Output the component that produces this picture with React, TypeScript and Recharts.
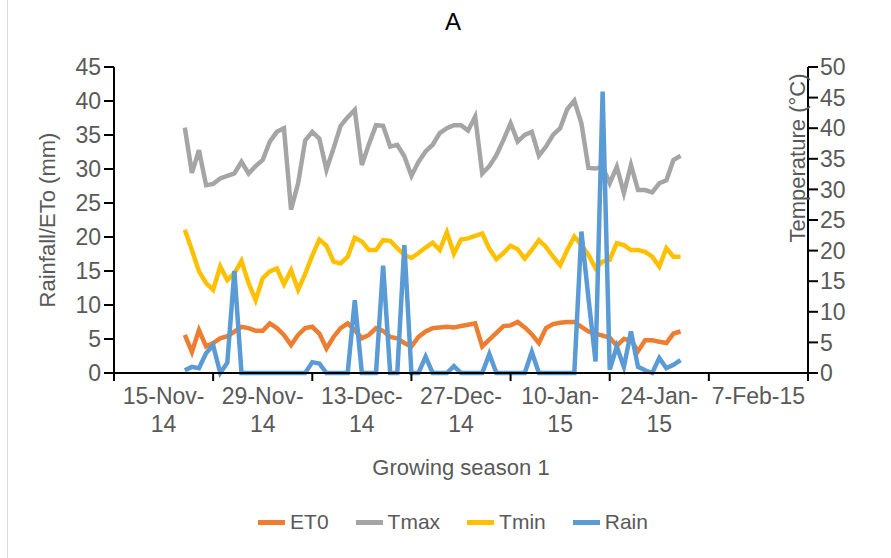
import React from 'react';
import { ComposedChart, Line, XAxis, YAxis, Legend } from 'recharts';

// Day offsets from 15-Nov-14
const dayOffsets = [
  10, 11, 12, 13, 14, 15, 16, 17, 18, 19,
  20, 21, 22, 23, 24, 25, 26, 27, 28, 29,
  30, 31, 32, 33, 34, 35, 36, 37, 38, 39,
  40, 41, 42, 43, 44, 45, 46, 47, 48, 49,
  50, 51, 52, 53, 54, 55, 56, 57, 58, 59,
  60, 61, 62, 63, 64, 65, 66, 67, 68, 69,
  70, 71, 72, 73, 74, 75, 76, 77, 78, 79, 80,
];

const et0 = [
  5.6, 3.1, 6.3, 3.9, 4.4, 5.1, 5.4, 6.1, 6.8, 6.6,
  6.2, 6.2, 7.3, 6.6, 5.6, 4.1, 5.6, 6.6, 6.8, 5.8,
  3.6, 5.3, 6.6, 7.3, 6.3, 5.1, 5.6, 6.6, 6.2, 5.3,
  5.1, 4.4, 3.9, 5.3, 6.1, 6.6, 6.7, 6.8, 6.7, 6.9,
  7.1, 7.3, 3.9, 4.9, 5.9, 6.9, 7.0, 7.5, 6.7, 5.7,
  4.4, 6.6, 7.2, 7.4, 7.5, 7.5, 6.8, 6.1, 5.8, 5.5,
  5.2, 4.0, 5.0, 4.8, 3.2, 4.8, 4.8, 4.6, 4.4, 5.8, 6.1,
];

const tmax = [
  40.1, 32.7, 36.4, 30.7, 30.9, 31.8, 32.2, 32.6, 34.5, 32.6,
  33.8, 34.8, 37.8, 39.4, 40.0, 26.7, 31.0, 38.0, 39.4, 38.3,
  33.2, 36.7, 40.4, 41.8, 43.0, 34.0, 37.4, 40.5, 40.4, 37.0,
  37.3, 35.4, 32.2, 34.5, 36.2, 37.3, 39.2, 40.0, 40.5, 40.5,
  39.6, 41.9, 32.6, 33.8, 35.6, 38.1, 40.8, 37.8, 38.9, 39.4,
  35.5, 37.0, 38.9, 40.0, 43.1, 44.5, 40.8, 33.5, 33.4, 33.7,
  31.0, 33.7, 29.4, 34.0, 29.9, 29.9, 29.5, 31.0, 31.5, 34.8, 35.5,
];

const tmin = [
  23.4, 20.1, 16.6, 14.7, 13.6, 17.4, 15.2, 16.3, 18.3, 14.7,
  11.9, 15.5, 16.6, 17.1, 14.5, 16.8, 13.6, 16.2, 19.2, 21.8,
  20.8, 18.2, 17.9, 19.0, 22.1, 21.5, 20.1, 20.1, 21.7, 21.6,
  20.4, 19.3, 18.8, 19.6, 20.5, 21.3, 20.1, 23.0, 19.5, 21.8,
  22.0, 22.4, 22.8, 20.3, 18.6, 19.6, 20.8, 20.2, 18.7, 20.1,
  21.7, 20.6, 19.0, 17.6, 20.1, 22.3, 20.9, 19.3, 17.1, 18.2,
  18.5, 21.2, 20.9, 20.1, 20.1, 19.8, 19.0, 17.4, 20.4, 19.0, 19.0,
];

const rain = [
  0.4, 0.9, 0.7, 2.9, 4.1, 0, 1.5, 15.0, 0, 0,
  0, 0, 0, 0, 0, 0, 0, 0, 1.6, 1.4,
  0, 0, 0, 0, 10.7, 0, 0, 0, 15.8, 0,
  0, 18.8, 0, 0, 2.4, 0, 0, 0, 1.0, 0,
  0, 0, 0, 2.8, 0, 0, 0, 0, 0, 3.1,
  0, 0, 0, 0, 0, 0, 20.8, 11.0, 1.7, 41.4,
  0.5, 3.9, 0.9, 6.1, 0.9, 0.4, 0, 2.2, 0.7, 1.2, 1.9,
];

const xTicks = [0, 14, 28, 42, 56, 70, 84, 98];
const xTickLines = [
  ['15-Nov-', '14'],
  ['29-Nov-', '14'],
  ['13-Dec-', '14'],
  ['27-Dec-', '14'],
  ['10-Jan-', '15'],
  ['24-Jan-', '15'],
  ['7-Feb-15'],
];
const leftTicks = [0, 5, 10, 15, 20, 25, 30, 35, 40, 45];
const rightTicks = [0, 5, 10, 15, 20, 25, 30, 35, 40, 45, 50];

const seriesNames = ['ET0', 'Tmax', 'Tmin', 'Rain'];
const seriesColors = ['#ED7D31', '#A5A5A5', '#FFC000', '#5B9BD5'];

const data = dayOffsets.map((d, i) => ({
  day: d,
  ET0: et0[i],
  Tmax: tmax[i],
  Tmin: tmin[i],
  Rain: rain[i],
}));

const FONT = '"Liberation Sans", Arial, sans-serif';
const TXT = '#595959';
const W = 891;
const H = 558;
const PLOT_LEFT = 114;
const PLOT_RIGHT = 808;
const PLOT_TOP = 67;
const PLOT_BOTTOM = 373;
const HALF = ((PLOT_RIGHT - PLOT_LEFT) / 98) * 7;
const TICK_FS = 23;
const TITLE_FS = 22;

const XTick = (props: any) => {
  const { x, y, payload } = props;
  const idx = xTicks.indexOf(payload.value);
  if (idx < 0 || idx >= xTickLines.length) return null;
  const lines = xTickLines[idx];
  const cx = x + HALF;
  return (
    <text x={cx} y={y} textAnchor="middle" fill={TXT} fontSize={TICK_FS} fontFamily={FONT}>
      {lines.map((l, i) => (
        <tspan key={i} x={cx} dy={i === 0 ? 21 : 28}>
          {l}
        </tspan>
      ))}
    </text>
  );
};

const LeftTitle = () => (
  <text
    x={47}
    y={220}
    transform="rotate(-90 47 220)"
    textAnchor="middle"
    dominantBaseline="central"
    fill={TXT}
    fontSize={TITLE_FS}
    fontFamily={FONT}
  >
    Rainfall/ETo (mm)
  </text>
);

const RightTitle = () => (
  <text
    x={797}
    y={158}
    transform="rotate(-90 797 158)"
    textAnchor="middle"
    dominantBaseline="central"
    fill={TXT}
    fontSize={TITLE_FS}
    fontFamily={FONT}
  >
    Temperature (°C)
  </text>
);

const XTitle = () => (
  <text x={461} y={467} textAnchor="middle" dominantBaseline="central" fill={TXT} fontSize={TITLE_FS} fontFamily={FONT}>
    Growing season 1
  </text>
);

const LegendContent = () => (
  <div style={{ display: 'flex', justifyContent: 'center', alignItems: 'center', fontFamily: FONT, fontSize: 21, color: TXT }}>
    {seriesNames.map((n, i) => (
      <div key={n} style={{ display: 'flex', alignItems: 'center', marginRight: i < seriesNames.length - 1 ? 27 : 0 }}>
        <div style={{ width: 27, height: 5, background: seriesColors[i], marginRight: 5 }} />
        <span>{n}</span>
      </div>
    ))}
  </div>
);

export default function App() {
  return (
    <div style={{ position: 'absolute', left: 0, top: 0, width: W, height: H, background: '#fff' }}>
      <div style={{ position: 'absolute', left: 7, top: 0, width: 1, height: H, background: '#d9d9d9' }} />
      <div
        style={{
          position: 'absolute',
          left: 0,
          top: 8,
          width: 906,
          textAlign: 'center',
          fontFamily: FONT,
          fontSize: 24,
          color: '#000',
          lineHeight: '28px',
        }}
      >
        A
      </div>
      <ComposedChart
        width={W}
        height={H}
        data={data}
        margin={{ top: PLOT_TOP, right: 0, bottom: 0, left: 0 }}
      >
        <XAxis
          dataKey="day"
          type="number"
          domain={[0, 98]}
          ticks={xTicks}
          interval={0}
          height={H - PLOT_BOTTOM}
          axisLine={{ stroke: '#000', strokeWidth: 2 }}
          tickLine={{ stroke: '#000', strokeWidth: 2 }}
          tickSize={8}
          tickMargin={2}
          tick={<XTick />}
          label={<XTitle />}
        />
        <YAxis
          yAxisId="left"
          orientation="left"
          domain={[0, 45]}
          ticks={leftTicks}
          interval={0}
          width={PLOT_LEFT}
          axisLine={{ stroke: '#000', strokeWidth: 2 }}
          tickLine={{ stroke: '#000', strokeWidth: 2 }}
          tickSize={10}
          tickMargin={3}
          tick={{ fill: TXT, fontSize: TICK_FS, fontFamily: FONT }}
          label={<LeftTitle />}
        />
        <YAxis
          yAxisId="right"
          orientation="right"
          domain={[0, 50]}
          ticks={rightTicks}
          interval={0}
          width={W - PLOT_RIGHT}
          axisLine={{ stroke: '#000', strokeWidth: 2 }}
          tickLine={{ stroke: '#000', strokeWidth: 2 }}
          tickSize={10}
          tickMargin={2}
          tick={{ fill: TXT, fontSize: TICK_FS, fontFamily: FONT }}
          label={<RightTitle />}
        />
        <Legend
          layout="horizontal"
          verticalAlign="middle"
          align="center"
          content={<LegendContent />}
          wrapperStyle={{ top: 510, left: 0, width: 906 }}
        />
        <Line yAxisId="left" type="linear" dataKey="ET0" stroke={seriesColors[0]} strokeWidth={4.5} dot={false} isAnimationActive={false} />
        <Line yAxisId="right" type="linear" dataKey="Tmax" stroke={seriesColors[1]} strokeWidth={4.5} dot={false} isAnimationActive={false} />
        <Line yAxisId="right" type="linear" dataKey="Tmin" stroke={seriesColors[2]} strokeWidth={4.5} dot={false} isAnimationActive={false} />
        <Line yAxisId="left" type="linear" dataKey="Rain" stroke={seriesColors[3]} strokeWidth={4.5} dot={false} isAnimationActive={false} />
      </ComposedChart>
    </div>
  );
}
